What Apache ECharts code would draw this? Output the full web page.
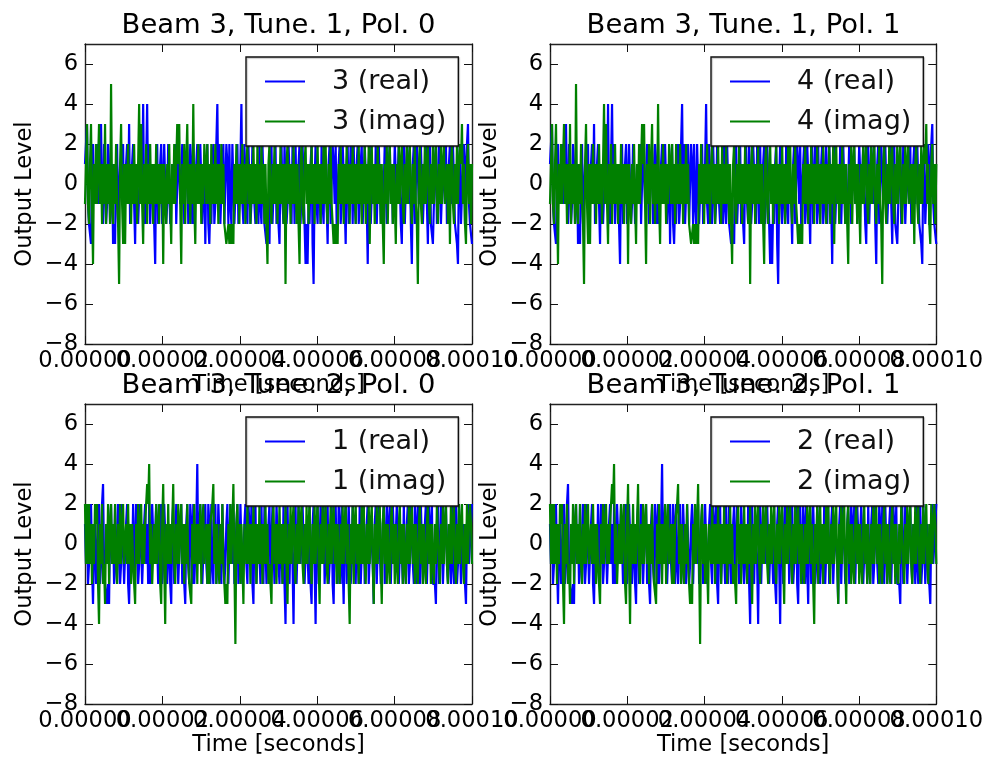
<!DOCTYPE html>
<html><head><meta charset="utf-8">
<style>html,body{margin:0;padding:0;background:#fff}#c{width:986px;height:758px;filter:blur(0.4px)}</style>
<script src="https://cdn.jsdelivr.net/npm/echarts@6/dist/echarts.min.js"></script>
</head><body><div id="c"></div>
<script>
// Output levels (the two polarisation panels of a tuning look the same)
const tune1Real = [
 1,2,3,-1,-2,-2,-3,1,2,-1,-1,1,2,-1,0,2,3,-1,-2,2,2,-2,-1,2,1,-2,-2,1,-3,-2,-3,1,2,-2,-2,1,1,-1,2,-2,
 -2,1,2,-1,3,-2,-2,1,2,-1,-3,1,1,-2,-2,1,2,-1,4,-1,-2,1,4,-1,2,-2,-2,1,1,-2,-4,1,2,-2,-1,1,2,-2,-2,2,
 2,-2,-1,2,2,-2,-2,1,1,-1,2,-2,-2,2,2,-1,-1,2,1,-2,-2,1,2,-2,-2,2,1,-2,2,-2,-2,1,2,-1,-1,2,2,-2,-2,1,
 -3,1,2,-2,-3,-1,-2,1,2,-2,-1,2,4,-1,2,-2,-2,1,2,-2,-2,2,1,-2,2,-1,-2,2,2,-2,-2,1,2,-2,-1,1,4,-1,-2,2,
 2,-1,-2,2,2,-2,-1,2,2,-1,-2,1,1,-2,2,-1,-2,2,2,-2,-2,-3,-3,-2,-3,1,2,-2,-2,1,2,-2,-1,-2,-3,1,2,-1,-2,2,
 2,-2,-1,2,2,-1,-2,2,1,-2,2,-1,-2,1,2,-2,-2,2,2,-2,-4,-2,-4,-1,-2,1,2,-3,-5,0,2,-1,-2,1,1,-2,2,-1,-2,2,
 2,-1,-3,1,2,-2,-2,2,1,-1,2,-2,-2,1,2,-2,-1,2,2,-1,-3,1,2,-2,-2,2,1,-2,2,-1,-2,1,2,-2,-1,1,2,-2,-2,2,
 2,-1,-4,1,2,-2,-2,1,1,-1,2,-2,-2,2,2,-2,-1,-2,-2,2,2,-2,-2,1,2,-1,1,-2,-2,2,2,-1,-1,2,2,-2,-3,1,2,-2,
 -2,2,1,-1,2,-2,-4,1,2,-2,-2,2,2,-1,-1,2,2,-2,-2,1,2,-1,-3,1,2,-2,-2,-3,-3,1,2,-2,-1,2,2,-2,-2,1,1,-1,
 2,-2,-2,1,2,-1,-1,2,2,-2,-2,-3,-4,1,2,-2,-2,1,2,-2,1,2,3,-1,-2,-2,-3];
const tune1Imag = [
 -1,1,3,-1,-2,1,3,-1,-4,1,-1,2,-1,1,3,-1,1,-2,1,-1,3,-2,1,-1,1,-2,5,-1,-2,1,-1,2,-1,-2,-5,1,3,-1,-3,1,
 -3,1,-1,2,-1,1,-2,1,-1,2,-1,1,-2,1,4,-1,3,-1,-3,1,-1,2,-2,1,-1,2,-1,1,-2,1,-1,2,-1,1,-2,1,-1,1,-4,1,
 1,-2,1,-1,2,-1,-3,1,-1,2,-1,1,3,1,3,-1,-4,1,-1,2,-2,1,3,-1,1,-2,1,-1,4,-1,-3,1,-1,2,-1,1,-2,1,-1,2,
 1,-1,2,-1,1,-2,2,-1,1,-1,2,-1,1,-2,1,-1,2,-1,1,-2,-2,-3,-3,-2,-3,-2,-3,-2,-3,1,-1,2,-1,1,-2,1,-1,2,-1,1,
 -2,1,2,-1,1,-2,1,-1,2,-1,1,-2,2,-1,1,-1,2,-1,1,-2,1,-2,-4,1,2,-1,-2,1,-1,2,-1,1,-2,1,-1,2,-1,1,-2,1,
 -5,1,2,-1,1,-2,1,-1,2,-1,1,-2,1,-2,-4,1,2,-1,-2,1,2,-1,1,-2,1,-1,2,-1,1,-2,1,-1,2,-1,1,-2,1,-1,2,-1,
 2,-1,-2,1,-1,2,-1,-2,-3,-2,-3,-2,-3,1,-1,2,-1,1,-2,1,-1,2,-1,1,-2,1,-1,2,-1,1,-2,1,-1,2,-1,1,-2,1,-1,2,
 -2,1,-1,2,-3,1,2,-1,1,-2,1,-1,2,-1,1,-2,1,-2,-4,1,-1,2,-2,1,2,-1,1,-2,1,-1,-3,1,-1,2,-1,1,2,-1,-2,1,
 -1,2,-1,1,2,-1,-2,1,-1,2,-1,-2,-5,1,2,-1,-2,1,-1,2,-1,1,2,-1,-2,1,-1,2,-1,1,2,-1,-2,1,-1,2,-1,1,2,-1,
 -1,1,-2,1,-3,1,2,-1,-2,1,-1,2,-1,1,2,1,3,-1,1,-2,-3,1,2,-1,1,-2,1];
const tune2Real = [
 1,-1,2,-2,-1,1,2,-1,-3,0,1,-2,-2,1,2,-2,-1,2,3,-1,-2,-2,-3,-2,-3,1,2,-1,1,-2,2,-1,-2,2,2,-2,-1,2,2,-2,
 -2,1,2,-2,-3,0,1,-1,2,-2,-2,2,2,-2,-1,2,2,-2,-2,1,2,-1,1,-2,2,-2,-2,2,2,-1,-1,2,2,-2,-2,1,2,-2,-1,2,
 2,-1,-2,1,1,-2,-3,1,2,-2,-1,2,2,-2,-2,1,2,-2,-1,-2,-3,1,2,-1,-2,2,1,-2,2,-2,-2,1,4,-1,-1,2,2,-2,-2,1,
 2,-1,-2,2,1,-2,2,-1,-2,1,2,-2,-1,2,2,-1,-2,2,2,-2,-1,1,2,-2,-2,2,1,-1,2,-2,-2,1,2,-2,-1,2,2,-2,-2,1,
 2,-1,-2,2,1,-1,2,-2,-3,1,2,-2,-2,1,1,-2,2,-1,-2,2,2,-2,-1,1,2,-2,-2,2,2,-2,-1,2,2,-1,-2,1,1,-2,2,-2,
 -4,1,2,-1,-2,1,1,-1,-4,1,2,-2,-2,2,2,-1,-1,2,2,-2,-2,1,1,-2,2,-2,-3,1,2,-1,-4,1,2,-2,-2,2,1,-1,2,-2,
 -2,1,2,-2,-1,1,2,-2,-3,1,2,-1,-2,2,1,-2,2,-1,-3,1,2,-2,-2,2,2,-2,-1,2,2,-1,-2,1,1,-2,2,-2,-2,1,2,-2,
 -1,1,2,-2,-2,1,1,-1,-3,1,2,-2,-2,2,2,-2,-1,1,2,-2,-2,2,1,-1,2,-2,-2,2,2,-1,-1,2,2,-2,-2,1,1,-2,2,-1,
 -2,1,2,-2,-1,2,2,-1,-2,2,1,-2,2,-1,-2,2,2,-2,-1,1,2,-2,-2,2,1,-1,2,-2,-2,-2,-3,1,2,-2,-1,2,2,-2,-2,1,
 2,-1,-2,1,1,-2,2,-1,-2,1,2,-2,-1,2,2,-2,-2,1,1,-2,-3,1,2,-1,-1,1,2];
const tune2Imag = [
 2,-1,2,-1,2,-1,1,-2,1,-1,2,1,2,-2,-4,1,-1,2,-2,-1,-3,1,-1,2,-2,1,2,-1,1,-1,2,-1,-2,1,-1,2,-1,1,2,-1,
 -1,1,-1,2,-1,1,-2,1,-1,-2,-3,1,-1,2,-1,1,2,-1,1,-1,1,2,3,2,4,-1,1,-2,-2,1,-1,2,-1,1,2,-2,-3,1,3,-1,
 -4,1,-1,2,-1,1,-1,1,3,-1,-2,1,-1,2,-1,1,2,-1,1,-2,1,-1,2,-1,-2,-2,-3,1,-1,2,-1,1,-2,1,-1,2,-2,1,2,-1,
 -1,1,-2,1,-2,1,1,2,3,-1,1,-2,1,-1,-2,1,-1,2,-1,-2,-3,-2,-3,1,-1,2,-1,1,3,-1,-5,1,2,-1,1,-2,1,-1,-3,1,
 1,-1,2,-1,1,-2,1,-1,2,-1,1,-2,1,-1,2,-1,1,-2,1,-1,2,-1,1,-2,-1,-2,-3,1,2,-1,1,-2,1,-1,2,-1,1,-2,1,-1,
 2,-1,-3,1,-1,2,-1,1,2,-1,-2,1,-1,2,-1,1,2,-1,-2,1,-1,2,-1,1,2,-1,-2,1,-1,2,-1,1,2,-1,-3,1,-1,2,-1,1,
 2,-1,-2,1,-1,2,-1,1,2,-1,1,-2,1,-1,-2,1,-1,2,-1,1,2,-1,1,-2,-4,1,-1,2,-2,1,2,-1,1,-2,1,-1,2,-1,2,-1,
 -2,1,-1,2,-1,1,2,-1,-3,1,-1,2,-1,1,2,-1,-3,1,2,-1,1,-2,1,-1,-2,1,2,-1,1,-2,1,-1,-2,1,2,-1,1,-2,1,-1,
 -2,1,-1,2,-1,1,2,-1,1,-2,1,-1,-2,1,2,-1,1,-2,1,-1,-2,1,2,-1,1,-2,1,-1,-2,1,-1,2,2,-1,-2,1,-1,2,-1,1,
 2,-1,-2,1,-1,2,-1,1,2,-1,-2,1,-1,2,-1,1,2,-1,-2,1,-1,2,-1,1,2,1,-1];

const timeEnd = 0.0001;
const xTicks = [0, 0.00002, 0.00004, 0.00006, 0.00008, 0.0001];
const yTicks = [-8, -6, -4, -2, 0, 2, 4, 6];
const panelTitles = ['Beam 3, Tune. 1, Pol. 0','Beam 3, Tune. 1, Pol. 1','Beam 3, Tune. 2, Pol. 0','Beam 3, Tune. 2, Pol. 1'];
const inputIds = ['3','4','1','2'];
const panelReal = [tune1Real, tune1Real, tune2Real, tune2Real];
const panelImag = [tune1Imag, tune1Imag, tune2Imag, tune2Imag];

const FONT = '"DejaVu Sans"';
const LABEL = 22.6, BIG = 27.4, INK = '#000';
const pos = [[85,44],[550,44],[85,404],[550,404]];
const W = 387, H = 300;
const pairs = a => a.map((v,i)=>[i*timeEnd/(a.length-1), v]);

const opt = {animation:false, backgroundColor:'#fff', textStyle:{fontFamily:FONT},
  title:[],legend:[],grid:[],xAxis:[],yAxis:[],series:[]};
const line = {show:true, onZero:false, lineStyle:{color:'#222',width:1.4}};
const tick = v => ({show:true, inside:true, length:8, customValues:v, lineStyle:{color:'#111',width:1}});
const xLabel = vals => ({show:true, customValues:vals, margin:6, fontSize:LABEL, color:INK, fontFamily:FONT,
  hideOverlap:false, showMinLabel:true, showMaxLabel:true, formatter:v=>v.toFixed(5)});

pos.forEach(([l,t],k)=>{
  opt.grid.push({left:l, top:t, width:W, height:H});
  opt.title.push({text:panelTitles[k], left:l+W/2-5, top:t-37, textAlign:'center',
    textStyle:{fontFamily:FONT,fontWeight:'normal',fontSize:BIG,color:INK}});
  const baseX = {type:'value', gridIndex:k, min:0, max:timeEnd, splitLine:{show:false}, axisLine:line, axisTick:tick(xTicks)};
  // tick labels overlap in the reference: two bottom axes carry alternate labels so none is dropped
  opt.xAxis.push({...baseX, position:'bottom',
    axisLabel:xLabel(xTicks.filter((_,i)=>i%2===0)),
    name:'Time [seconds]', nameLocation:'middle', nameGap:30,
    nameTextStyle:{fontFamily:FONT,fontSize:LABEL,color:INK,verticalAlign:'top'}});
  opt.xAxis.push({...baseX, position:'top', axisLabel:{show:false}});
  opt.xAxis.push({...baseX, position:'bottom', axisLine:{show:false}, axisTick:{show:false},
    axisLabel:xLabel(xTicks.filter((_,i)=>i%2===1))});
  const baseY = {type:'value', gridIndex:k, min:-8, max:7, splitLine:{show:false}, axisLine:line, axisTick:tick(yTicks)};
  opt.yAxis.push({...baseY, position:'left',
    axisLabel:{show:true, customValues:yTicks, margin:7, fontSize:LABEL, color:INK, fontFamily:FONT, hideOverlap:false,
      showMinLabel:true, showMaxLabel:true, formatter:v=>String(v).replace('-','\u2212')},
    name:'Output Level', nameLocation:'middle', nameGap:48, nameRotate:90,
    nameTextStyle:{fontFamily:FONT,fontSize:LABEL,color:INK}});
  opt.yAxis.push({...baseY, position:'right', axisLabel:{show:false}});
  const re = inputIds[k]+' (real)', im = inputIds[k]+' (imag)';
  const common = {type:'line', symbol:'none', showSymbol:false, xAxisIndex:k*3, yAxisIndex:k*2, animation:false, silent:true};
  opt.series.push({...common, name:re, data:pairs(panelReal[k]), lineStyle:{color:'#0000ff',width:2.2}, itemStyle:{color:'#0000ff'}});
  opt.series.push({...common, name:im, data:pairs(panelImag[k]), lineStyle:{color:'#008000',width:2.2}, itemStyle:{color:'#008000'}});
  opt.legend.push({data:[re,im], orient:'vertical', left:l+161, top:t+13, selectedMode:false, icon:'rect',
    backgroundColor:'#fff', borderColor:'#111', borderWidth:1.4, borderRadius:0,
    padding:[9,12,9,19], itemWidth:40, itemHeight:2, itemGap:9, align:'left',
    shadowColor:'rgba(0,0,0,0.25)', shadowBlur:1, shadowOffsetX:1, shadowOffsetY:1,
    textStyle:{fontFamily:FONT,fontSize:BIG-0.4,color:'#111',padding:[0,0,0,22],lineHeight:31}});
});
echarts.init(document.getElementById('c'),null,{renderer:'canvas'}).setOption(opt);
</script></body></html>
